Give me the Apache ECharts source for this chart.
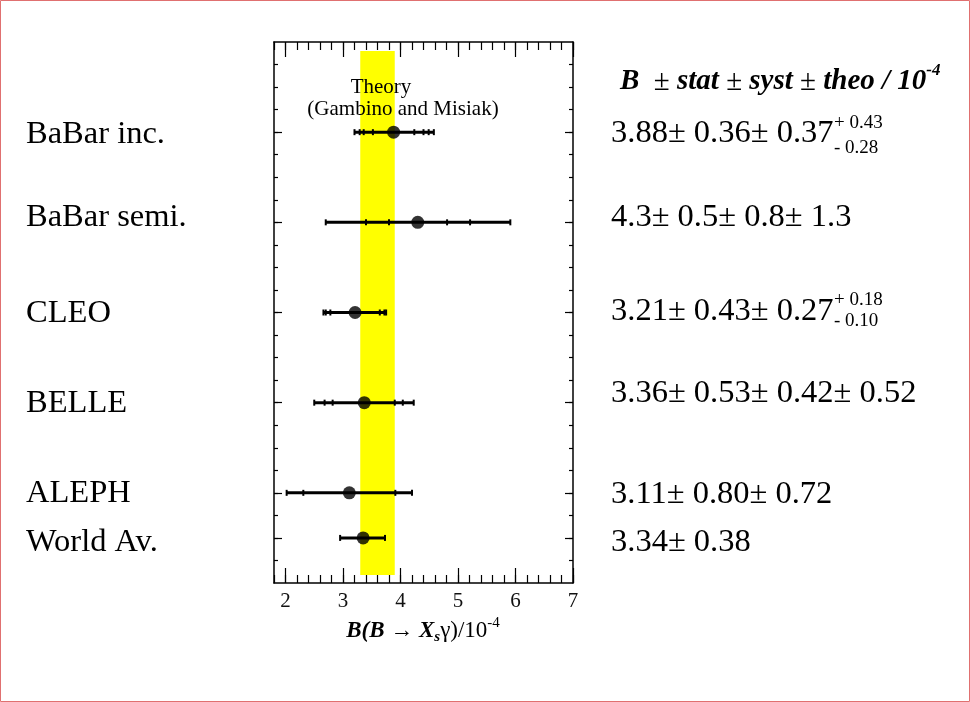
<!DOCTYPE html>
<html>
<head>
<meta charset="utf-8">
<script src="https://cdn.jsdelivr.net/npm/echarts@6/dist/echarts.min.js"></script>
<style>
  html, body { margin: 0; padding: 0; background: #fff; }
  #chart { width: 970px; height: 702px; }
</style>
</head>
<body>
<div id="chart"></div>
<script>
// measurements, top to bottom
const experiments = ['BaBar inc.', 'BaBar semi.', 'CLEO', 'BELLE', 'ALEPH', 'World Av.']
const rows = [4, 8, 12, 16, 20, 22]
const centers = [3.88, 4.30, 3.21, 3.37, 3.11, 3.35]
// marks along each error bar (stat, stat+syst, total)
const barTicks = [
  [3.20, 3.29, 3.36, 3.52, 4.24, 4.40, 4.49, 4.58],
  [2.70, 3.40, 3.80, 4.81, 5.21, 5.91],
  [2.66, 2.70, 2.78, 3.64, 3.72, 3.75],
  [2.50, 2.68, 2.82, 3.90, 4.04, 4.23],
  [2.02, 2.31, 3.91, 4.20],
  [2.95, 3.73]
]
const valueTexts = [
  '3.88± 0.36± 0.37',
  '4.3± 0.5± 0.8± 1.3',
  '3.21± 0.43± 0.27',
  '3.36± 0.53± 0.42± 0.52',
  '3.11± 0.80± 0.72',
  '3.34± 0.38'
]
const theoUp = ['+ 0.43', '', '+ 0.18', '', '', '']
const theoDown = ['- 0.28', '', '- 0.10', '', '', '']
const theoryBand = [3.30, 3.90]
const theoryRows = [0.4, 23.65]

const xMajor = [2, 3, 4, 5, 6, 7]
const xMinor = []
for (let v = 18; v <= 70; v += 2) xMinor.push(v / 10)
const yMinor = []
for (let v = 1; v <= 23; v++) yMinor.push(v)

const serif = '"Liberation Serif", "Times New Roman", serif'

// layout
const G = { left: 274, top: 42, width: 299, height: 541 }
const labelY = [134, 217, 313, 403, 493, 542]
const valueY = [133, 217, 311, 393, 494, 542]
const supY = [[123, 148], null, [300, 321], null, null, null]

const myChart = echarts.init(document.getElementById('chart'))

// grid 0 carries the frame and long ticks, grid 1 (same box) the short ticks
const xAxisBase = (pos, major) => ({
  type: 'value', min: 1.8, max: 7, position: pos, gridIndex: major ? 0 : 1,
  splitLine: { show: false },
  axisLine: { show: major, onZero: false, lineStyle: { color: '#000', width: 1.5 } },
  axisTick: {
    show: true, inside: true, length: major ? 15 : 8,
    customValues: major ? xMajor : xMinor,
    lineStyle: { color: '#000', width: 1.2 }
  },
  axisLabel: {
    show: major && pos === 'bottom', customValues: xMajor, margin: 8,
    fontFamily: serif, fontSize: 21, color: '#111'
  }
})

const yAxisBase = (pos, major) => ({
  type: 'value', min: 0, max: 24, inverse: true, position: pos, gridIndex: major ? 0 : 1,
  splitLine: { show: false },
  axisLine: { show: major, onZero: false, lineStyle: { color: '#000', width: 1.5 } },
  axisTick: {
    show: true, inside: true, length: major ? 8 : 4,
    customValues: major ? rows : yMinor,
    lineStyle: { color: '#000', width: 1.2 }
  },
  axisLabel: { show: false }
})

const graphics = [
  { type: 'rect', shape: { x: 0.5, y: 0.5, width: 969, height: 701 }, style: { fill: 'none', stroke: '#e07070', lineWidth: 1 }, silent: true }
]
const txt = (x, y, text, size, align) => ({
  type: 'text', x, y, z: 10,
  style: { text, font: `${size}px ${serif}`, fill: '#000', textAlign: align || 'left', textVerticalAlign: 'middle' }
})
experiments.forEach((name, i) => {
  graphics.push(txt(26, labelY[i], name, 32.5))
  graphics.push(txt(611, valueY[i], valueTexts[i], 32.5))
  if (supY[i]) {
    graphics.push(txt(834, supY[i][0], theoUp[i], 19))
    graphics.push(txt(834, supY[i][1], theoDown[i], 19))
  }
})
// column header
graphics.push({
  type: 'text', x: 620, y: 82, z: 10,
  style: {
    text: '{b|B}{r|  ± }{b|stat}{r| ± }{b|syst}{r| ± }{b|theo / 10}{s|-4}',
    textVerticalAlign: 'middle',
    rich: {
      b: { fontFamily: serif, fontSize: 29, fontStyle: 'italic', fontWeight: 'bold', fill: '#000' },
      r: { fontFamily: serif, fontSize: 29, fill: '#000' },
      s: { fontFamily: serif, fontSize: 17, fontStyle: 'italic', fontWeight: 'bold', fill: '#000', padding: [0, 0, 22, 0] }
    }
  }
})
// theory label
graphics.push(txt(381, 87, 'Theory', 21, 'center'))
graphics.push(txt(403, 109, '(Gambino and Misiak)', 21, 'center'))
// x axis title
graphics.push({
  type: 'text', x: 423, y: 631, z: 10,
  style: {
    text: '{b|B(B }{r|→ }{b|X}{sb|s}{r|γ)/10}{sp|-4}',
    textAlign: 'center', textVerticalAlign: 'middle',
    rich: {
      b: { fontFamily: serif, fontSize: 23, fontStyle: 'italic', fontWeight: 'bold', fill: '#000' },
      r: { fontFamily: serif, fontSize: 23, fill: '#000' },
      sb: { fontFamily: serif, fontSize: 15, fontStyle: 'italic', fontWeight: 'bold', fill: '#000', padding: [12, 0, 0, 0] },
      sp: { fontFamily: serif, fontSize: 15, fill: '#000', padding: [0, 0, 16, 0] }
    }
  }
})

const option = {
  animation: false,
  backgroundColor: '#fff',
  grid: [G, G],
  xAxis: [xAxisBase('bottom', true), xAxisBase('top', true), xAxisBase('bottom', false), xAxisBase('top', false)],
  yAxis: [yAxisBase('left', true), yAxisBase('right', true), yAxisBase('left', false), yAxisBase('right', false)],
  graphic: graphics,
  series: [
    {
      type: 'scatter', data: [], silent: true,
      markArea: {
        silent: true,
        itemStyle: { color: '#ffff00', opacity: 1 },
        data: [[{ xAxis: theoryBand[0], yAxis: theoryRows[0] }, { xAxis: theoryBand[1], yAxis: theoryRows[1] }]]
      },
      z: 1
    },
    {
      type: 'custom',
      data: rows.map((r, i) => [centers[i], r]),
      encode: { x: 0, y: 1 },
      z: 3,
      renderItem: (params, api) => {
        const i = params.dataIndex
        const row = api.value(1)
        const t = barTicks[i]
        const lo = api.coord([Math.min(...t), row])
        const hi = api.coord([Math.max(...t), row])
        const children = [{
          type: 'line', shape: { x1: lo[0], y1: lo[1], x2: hi[0], y2: hi[1] },
          style: { stroke: '#000', lineWidth: 3 }
        }]
        t.forEach(v => {
          const p = api.coord([v, row])
          children.push({ type: 'line', shape: { x1: p[0], y1: p[1] - 3, x2: p[0], y2: p[1] + 3 }, style: { stroke: '#000', lineWidth: 2 } })
        })
        return { type: 'group', children }
      }
    },
    {
      type: 'scatter',
      data: rows.map((r, i) => [centers[i], r]),
      symbol: 'circle', symbolSize: 13,
      itemStyle: { color: '#000' },
      z: 4
    }
  ]
}

myChart.setOption(option)
</script>
</body>
</html>
